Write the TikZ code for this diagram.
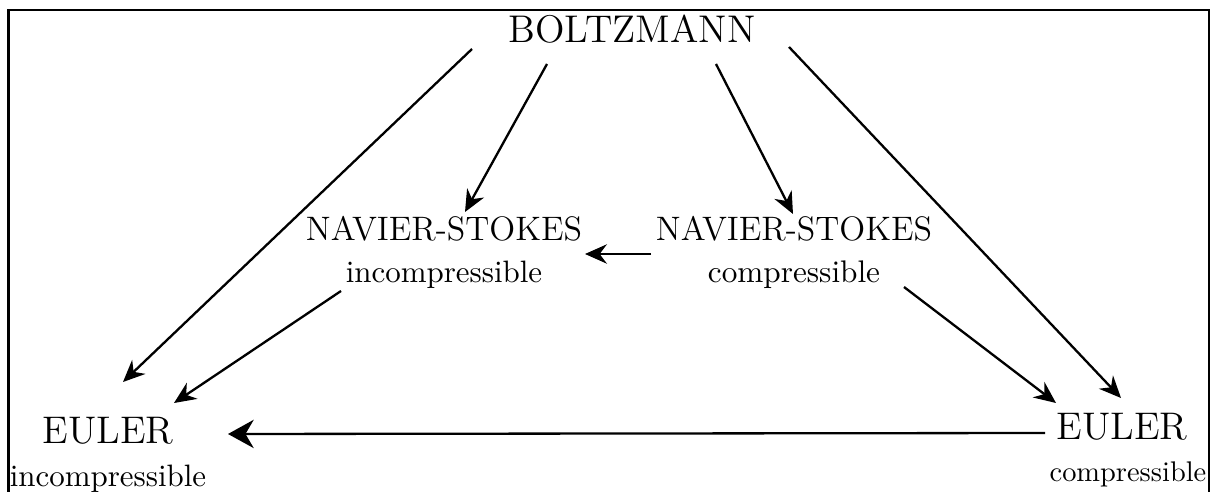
\documentclass[tikz,border=0pt]{standalone}
\usetikzlibrary{arrows.meta,calc}
\newcommand{\subI}[2]{{\fontsize{10.95}{16.7}\selectfont\scalebox{#1}{#2}}}
\begin{document}
\begin{tikzpicture}[x=0.3891pt,y=-0.3891pt,
  lbl/.style={anchor=base,align=center,inner sep=0pt,font=\fontsize{12}{16.7}\selectfont},
  big/.style={anchor=base,align=center,inner sep=0pt,font=\fontsize{14.4}{16.7}\selectfont},
  arr/.style={line width=0.9pt,-{Stealth[length=8.5pt,width=7.5pt,inset=2.8pt]}},
  bigarr/.style={line width=0.9pt,-{Stealth[length=10pt,width=11pt,inset=3.2pt]}},
  frame/.style={line width=1.05pt}]
\useasboundingbox (0,0) rectangle (1215,492);
\draw[frame] (8.5,495) -- (8.5,10) -- (1209,10) -- (1209,495);
\node[big] (boltz) at (632,43) {\scalebox{1.043}{BOLTZMANN}};
\node[lbl] (nsi) at (444,283) {\scalebox{1.10}{NAVIER-STOKES}\\\subI{1.10}{incompressible}};
\node[lbl] (nsc) at (794,283) {\scalebox{1.10}{NAVIER-STOKES}\\\subI{1.11}{compressible}};
\node[big] (eui) at (108,486) {\scalebox{1.04}{EULER}\\\subI{1.10}{incompressible}};
\node[big] (euc) at (1128,482) {\scalebox{1.04}{EULER}\hspace*{4.7pt}\\\subI{1.01}{compressible}};
\draw[arr] ($(boltz.base)+(-160,6)$) -- ($(eui.base)+(15,-104)$);
\draw[arr] ($(boltz.base)+(-85,21)$) -- ($(nsi.base)+(21,-71)$);
\draw[arr] ($(boltz.base)+(84,21)$) -- ($(nsc.base)+(-1,-69)$);
\draw[arr] ($(boltz.base)+(157,4)$) -- ($(euc.base)+(-7,-84)$);
\draw[arr] ($(nsc.base)+(-143,-29)$) -- ($(nsi.base)+(141,-29)$);
\draw[arr] ($(nsi.base)+(-103,8)$) -- ($(eui.base)+(66,-83)$);
\draw[arr] ($(nsc.base)+(110,4)$) -- ($(euc.base)+(-72,-79)$);
\draw[bigarr] ($(euc.base)+(-83,-49)$) -- ($(eui.base)+(120,-52)$);
\end{tikzpicture}
\end{document}
